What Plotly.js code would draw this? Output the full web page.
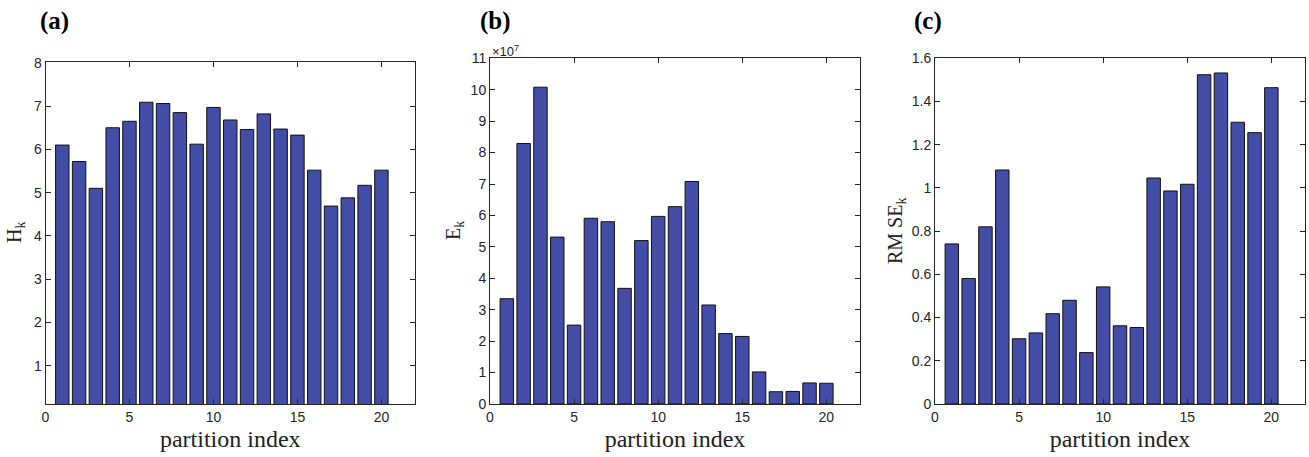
<!DOCTYPE html>
<html><head><meta charset="utf-8">
<script src="https://cdn.plot.ly/plotly-3.0.1.min.js"></script>
<style>html,body{margin:0;padding:0;background:#fff}#c{width:1309px;height:457px}</style>
</head><body><div id="c"></div>
<script>
const partitions = [1,2,3,4,5,6,7,8,9,10,11,12,13,14,15,16,17,18,19,20];
const entropyH = [6.10,5.72,5.10,6.50,6.65,7.09,7.06,6.85,6.12,6.97,6.68,6.46,6.82,6.47,6.33,5.52,4.69,4.88,5.17,5.52];
const energyE = [3.35e7,8.29e7,10.08e7,5.31e7,2.51e7,5.91e7,5.80e7,3.68e7,5.20e7,5.97e7,6.28e7,7.08e7,3.15e7,2.24e7,2.15e7,1.02e7,0.39e7,0.40e7,0.67e7,0.66e7];
const rmse = [0.741,0.581,0.820,1.083,0.302,0.329,0.418,0.480,0.238,0.542,0.362,0.354,1.046,0.986,1.017,1.524,1.532,1.304,1.256,1.464];
const panelLabels = ['(a)','(b)','(c)'];
const xTitle = 'partition index';
const yTitles = ['H<sub>k</sub>','E<sub>k</sub>','RM SE<sub>k</sub>'];

const barColor = '#434ca7';
const axColor = '#262626';
const tickFont = {family:'Liberation Sans, Arial, sans-serif', size:14, color:'#262626'};
const serif = 'Liberation Serif, Times New Roman, serif';

function bar(y, xa, ya){
  return {type:'bar', x:partitions, y:y, xaxis:xa, yaxis:ya, width:0.8,
    marker:{color:barColor, line:{color:'#111', width:1}}, hoverinfo:'skip'};
}
function xax(dom, anchor){
  return {domain:dom, anchor:anchor, range:[0,22], tickvals:[0,5,10,15,20], ticks:'inside', ticklen:5,
    tickcolor:axColor, showline:true, linecolor:axColor, linewidth:1, mirror:'ticks', showgrid:false,
    zeroline:false, tickfont:tickFont, fixedrange:true,
    title:{text:xTitle, font:{family:serif, size:24, color:'#222'}, standoff:6}};
}
function yax(dom, anchor, range, tickvals, ticktext){
  const o = {domain:dom, anchor:anchor, range:range, tickvals:tickvals, ticks:'inside', ticklen:5,
    tickcolor:axColor, showline:true, linecolor:axColor, linewidth:1, mirror:'ticks', showgrid:false,
    zeroline:false, tickfont:tickFont, fixedrange:true};
  if (ticktext) o.ticktext = ticktext;
  return o;
}
const W=1309, H=457;
const xa = [[45.5/W,415/W],[490/W,860/W],[935/W,1305/W]];
const ya = [[1-404/H,1-62/H],[1-404/H,1-58.3/H],[1-404/H,1-58.3/H]];

const data = [bar(entropyH,'x','y'), bar(energyE,'x2','y2'), bar(rmse,'x3','y3')];

const eTicks = [0,1,2,3,4,5,6,7,8,9,10,11].map(v=>v*1e7);
const eText = [0,1,2,3,4,5,6,7,8,9,10,11].map(String);
const rTicks = [0,0.2,0.4,0.6,0.8,1.0,1.2,1.4,1.6];
const rText = ['0','0.2','0.4','0.6','0.8','1','1.2','1.4','1.6'];

const yFont = {family:serif,size:20,color:'#222'};
const pFont = {family:serif,size:25,color:'#000'};
const layout = {
  width:W, height:H, margin:{l:0,r:0,t:0,b:0}, showlegend:false,
  paper_bgcolor:'#fff', plot_bgcolor:'#fff', bargap:0.2,
  xaxis: xax(xa[0],'y'), yaxis: yax(ya[0],'x',[0.115,8.02],[1,2,3,4,5,6,7,8]),
  xaxis2: xax(xa[1],'y2'), yaxis2: yax(ya[1],'x2',[0,11e7],eTicks,eText),
  xaxis3: xax(xa[2],'y3'), yaxis3: yax(ya[2],'x3',[0,1.6],rTicks,rText),
  annotations:[
    {text:'<b>'+panelLabels[0]+'</b>', x:38/W, y:1-21/H, xref:'paper', yref:'paper', xanchor:'left', yanchor:'middle', showarrow:false, font:pFont},
    {text:'<b>'+panelLabels[1]+'</b>', x:478/W, y:1-21/H, xref:'paper', yref:'paper', xanchor:'left', yanchor:'middle', showarrow:false, font:pFont},
    {text:'<b>'+panelLabels[2]+'</b>', x:912/W, y:1-21/H, xref:'paper', yref:'paper', xanchor:'left', yanchor:'middle', showarrow:false, font:pFont},
    {text:yTitles[0], x:16/W, y:1-233/H, xref:'paper', yref:'paper', textangle:-90, xanchor:'center', yanchor:'middle', showarrow:false, font:yFont},
    {text:yTitles[1], x:454/W, y:1-231/H, xref:'paper', yref:'paper', textangle:-90, xanchor:'center', yanchor:'middle', showarrow:false, font:yFont},
    {text:yTitles[2], x:896/W, y:1-231/H, xref:'paper', yref:'paper', textangle:-90, xanchor:'center', yanchor:'middle', showarrow:false, font:yFont},
    {text:'×10<sup>7</sup>', x:490/W, y:1-51/H, xref:'paper', yref:'paper', xanchor:'left', yanchor:'middle', showarrow:false, font:{family:'Liberation Sans, Arial, sans-serif',size:13,color:'#262626'}}
  ]
};
Plotly.newPlot('c', data, layout, {displayModeBar:false, staticPlot:true});
</script>
</body></html>
